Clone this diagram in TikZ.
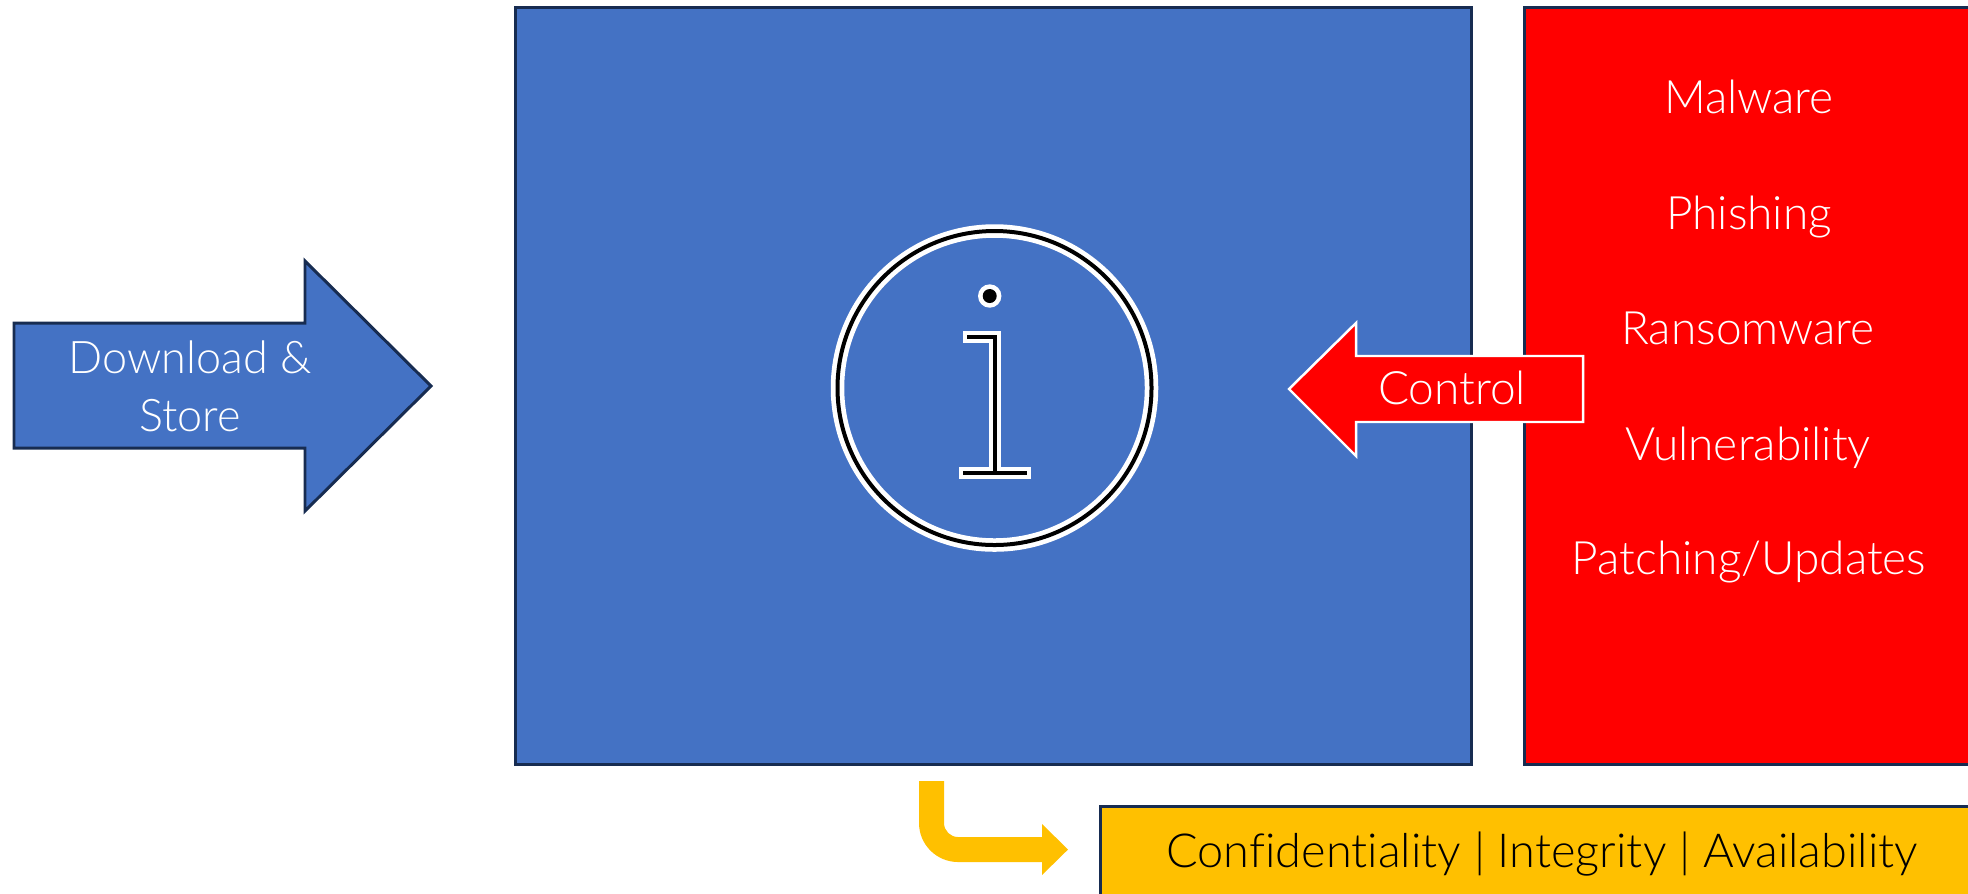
\documentclass[tikz,border=0pt]{standalone}
\usepackage{fontspec}
\setmainfont{Lato Light}[Ligatures=NoCommon]
\definecolor{boxblue}{HTML}{4472C4}
\definecolor{boxred}{HTML}{FF0000}
\definecolor{boxgold}{HTML}{FFC000}
\definecolor{edgenavy}{HTML}{172C51}
\tikzset{
  boxedge/.style={draw=edgenavy, line width=0.85pt, miter limit=10},
  label/.style={text=white, inner sep=0pt, anchor=base, align=center, font=\fontsize{13.1}{16.5}\selectfont},
  iconwhite/.style={draw=white, line width=12*0.1mm, line cap=rect, miter limit=10},
  iconblack/.style={draw=black, line width=4*0.1mm, line cap=rect, miter limit=10},
}
\begin{document}
\begin{tikzpicture}[x=0.1mm, y=-0.1mm]
    \clip (0, 0) rectangle (1968, 893);

    % Main boxes
    \fill[white] (0, 0) rectangle (1968, 893);
    \draw[boxedge, fill=boxblue] (515, 7) rectangle (1471, 764);
    \draw[boxedge, fill=boxred] (1524, 7) rectangle (1990, 764);
    \draw[boxedge, fill=boxgold] (1100, 806) rectangle (1990, 910);

    % Download arrow
    \draw[boxedge, fill=boxblue] (14, 323) -- (305, 323) -- (305, 261) -- (431, 386) -- (305, 511) -- (305, 448) -- (14, 448) -- cycle;
    \node[label, font=\fontsize{12.8}{16.5}\selectfont] (download) at (190, 431) {Download \&\\Store};

    % Info icon
    \draw[draw=white, line width=13.5*0.1mm] (994.5, 388) circle (157);
    \draw[draw=black, line width=4*0.1mm] (994.5, 388) circle (157);
    \fill[white] (989.7, 296) circle (11.7);
    \fill[black] (989.7, 296) circle (7);
    \draw[iconwhite] (969, 337) -- (994.7, 337) -- (994.7, 473);
    \draw[iconwhite] (964.7, 473) -- (1024.7, 473);
    \draw[iconblack] (969, 337) -- (994.7, 337) -- (994.7, 473);
    \draw[iconblack] (964.7, 473) -- (1024.7, 473);

    % Threat list
    \node[label] (malware) at (1749, 113) {Malware};
    \node[label] (phishing) at (1749, 229) {Phishing};
    \node[label] (ransomware) at (1748, 344) {Ransomware};
    \node[label] (vulnerability) at (1748, 460) {Vulnerability};
    \node[label] (patching) at (1749, 574) {Patching/Updates};

    % Control arrow
    \draw[draw=white, line width=0.7pt, fill=boxred, miter limit=10] (1583, 356) -- (1356, 356) -- (1356, 323) -- (1289, 389) -- (1356, 456) -- (1356, 422) -- (1583, 422) -- cycle;
    \node[label] (control) at (1452, 404) {Control};

    % Bent arrow and triad
    \fill[boxgold] (919, 781) -- (944, 781) -- (944, 823) .. controls (944, 830.7) and (950.3, 837) .. (958, 837) -- (1042, 837) -- (1042, 824) -- (1068, 849.5) -- (1042, 875) -- (1042, 862) -- (958, 862) .. controls (936.5, 862) and (919, 844.5) .. (919, 823) -- cycle;
    \node[label, text=black, font=\fontsize{13.35}{16.5}\selectfont] (triad) at (1542, 867) {Confidentiality | Integrity | Availability};
\end{tikzpicture}
\end{document}
